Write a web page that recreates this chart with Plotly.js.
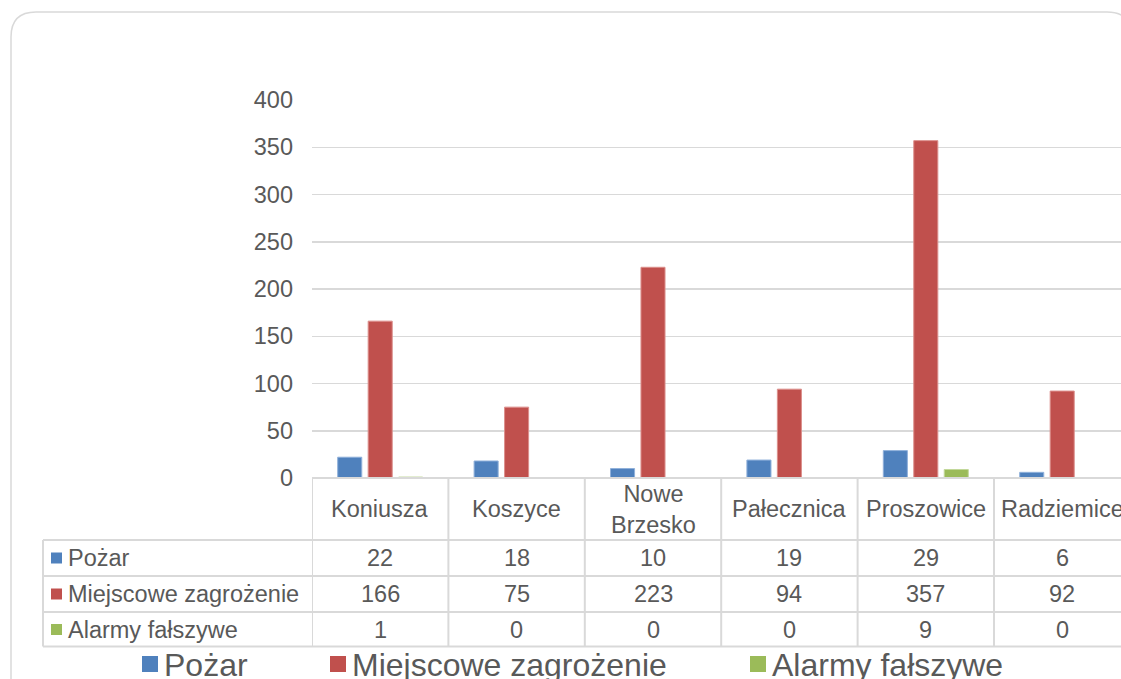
<!DOCTYPE html>
<html><head><meta charset="utf-8">
<script src="https://cdn.plot.ly/plotly-3.0.1.min.js"></script>
<style>html,body{margin:0;padding:0;background:#fff;overflow:hidden}</style>
</head><body><div id="chart" style="width:1121px;height:679px"></div>
<script>
// ---- data ----
const categories = ['Koniusza', 'Koszyce', 'Nowe Brzesko', 'Pałecznica', 'Proszowice', 'Radziemice'];
const categoryLabels = ['Koniusza', 'Koszyce', 'Nowe<br>Brzesko', 'Pałecznica', 'Proszowice', 'Radziemice'];
const seriesNames = ['Pożar', 'Miejscowe zagrożenie', 'Alarmy fałszywe'];
const pozar = [22, 18, 10, 19, 29, 6];
const miejscowe = [166, 75, 223, 94, 357, 92];
const alarmy = [1, 0, 0, 0, 9, 0];
const yTicks = [0, 50, 100, 150, 200, 250, 300, 350, 400];

// ---- styles / layout geometry ----
const seriesValues = [pozar, miejscowe, alarmy];
const colors = ['#4F81BD', '#C0504D', '#9BBB59'];
const edgeColors = ['#8FB0DA', '#DC8F8C', '#C2D89A'];
const textColor = '#595959';
const lineColor = '#D9D9D9';
const FONT = '"Liberation Sans", Arial, sans-serif';
const W = 1121, H = 679, L = 312, T = 100, B = 201;
const plotW = W - L, plotH = H - T - B;
const colWidth = 136.4;
const px2x = px => (px - L) / plotW;
const py2y = py => (H - B - py) / plotH;

const rowLines = [540, 576, 612, 646.5];
const rowCenters = [558, 594, 629.5];
const headerCenter = 509;
const tableLeft = 43;

const traces = seriesNames.map((name, s) => ({
  type: 'bar', name: name, x: categories, y: seriesValues[s],
  marker: {color: colors[s], line: {color: edgeColors[s], width: 1}},
  hoverinfo: 'x+y+name'
}));

const shapes = [];
const annotations = [];

// rounded chart border
(function () {
  const l = 11, t = 12, r = 25, rt = 1132, bt = 720;
  const P = (x, y) => px2x(x) + ',' + py2y(y);
  shapes.push({
    type: 'path', xref: 'paper', yref: 'paper', layer: 'below',
    path: 'M' + P(l, bt) + ' L' + P(l, t + r) + ' Q' + P(l, t) + ' ' + P(l + r, t) +
          ' L' + P(rt - r, t) + ' Q' + P(rt, t) + ' ' + P(rt, t + r) + ' L' + P(rt, bt),
    line: {color: lineColor, width: 1.5}
  });
})();

// table: header top line
shapes.push({type: 'line', xref: 'paper', yref: 'paper', x0: 0, x1: px2x(W + 20), y0: 0, y1: 0,
  line: {color: lineColor, width: 2}});
// horizontal row lines
rowLines.forEach(py => shapes.push({type: 'line', xref: 'paper', yref: 'paper',
  x0: px2x(tableLeft), x1: px2x(W + 20), y0: py2y(py), y1: py2y(py), line: {color: lineColor, width: 2}}));
// left vertical line of row labels
shapes.push({type: 'line', xref: 'paper', yref: 'paper', x0: px2x(tableLeft), x1: px2x(tableLeft),
  y0: py2y(rowLines[0]), y1: py2y(rowLines[rowLines.length - 1]), line: {color: lineColor, width: 2}});
// category column separators
for (let i = 0; i <= categories.length; i++) {
  shapes.push({type: 'line', xref: 'x', yref: 'paper', x0: i - 0.5, x1: i - 0.5,
    y0: 0, y1: py2y(rowLines[rowLines.length - 1]), line: {color: lineColor, width: 2}});
}
// header labels
categories.forEach((c, i) => annotations.push({xref: 'x', yref: 'paper', x: c, y: py2y(headerCenter),
  text: categoryLabels[i], showarrow: false, xanchor: 'center', yanchor: 'middle',
  font: {family: FONT, size: 23.5, color: textColor}}));
// row labels + markers + values
seriesNames.forEach((name, s) => {
  const yc = rowCenters[s];
  shapes.push({type: 'rect', xref: 'paper', yref: 'paper', x0: px2x(51), x1: px2x(62),
    y0: py2y(yc - 5.5), y1: py2y(yc + 5.5), fillcolor: colors[s], line: {width: 0}});
  annotations.push({xref: 'paper', yref: 'paper', x: px2x(66), y: py2y(yc), text: name,
    showarrow: false, xanchor: 'left', yanchor: 'middle', font: {family: FONT, size: 23.5, color: textColor}});
  categories.forEach((c, i) => annotations.push({xref: 'x', yref: 'paper', x: c, y: py2y(yc),
    text: String(seriesValues[s][i]), showarrow: false, xanchor: 'center', yanchor: 'middle',
    font: {family: FONT, size: 23.5, color: textColor}}));
});
// bottom legend
const legendSquareX = [142, 330, 750];
seriesNames.forEach((name, s) => {
  const x0 = legendSquareX[s];
  shapes.push({type: 'rect', xref: 'paper', yref: 'paper', x0: px2x(x0), x1: px2x(x0 + 16),
    y0: py2y(656), y1: py2y(672), fillcolor: colors[s], line: {width: 0}});
  annotations.push({xref: 'paper', yref: 'paper', x: px2x(x0 + 20), y: py2y(665), text: name,
    showarrow: false, xanchor: 'left', yanchor: 'middle', font: {family: FONT, size: 32, color: textColor}});
});

const layout = {
  width: W, height: H,
  margin: {l: L, r: 0, t: T, b: B, pad: 0},
  paper_bgcolor: '#fff', plot_bgcolor: '#fff',
  barmode: 'group', bargap: 0.33, bargroupgap: 0.21,
  showlegend: false,
  font: {family: FONT, color: textColor},
  xaxis: {type: 'category', categoryorder: 'array', categoryarray: categories,
    range: [-0.5, -0.5 + plotW / colWidth], showticklabels: false, showgrid: false,
    zeroline: false, showline: false, ticks: '', fixedrange: true},
  yaxis: {range: [0, 400], tickvals: yTicks, ticktext: yTicks.map(String), showgrid: true,
    gridcolor: lineColor, gridwidth: 1.5, zeroline: false, showline: false, ticks: '',
    ticklabelstandoff: 18, tickfont: {family: FONT, size: 23.5, color: textColor}, fixedrange: true},
  shapes: shapes,
  annotations: annotations
};

Plotly.newPlot('chart', traces, layout, {displayModeBar: false, staticPlot: true});
</script>
</body></html>
